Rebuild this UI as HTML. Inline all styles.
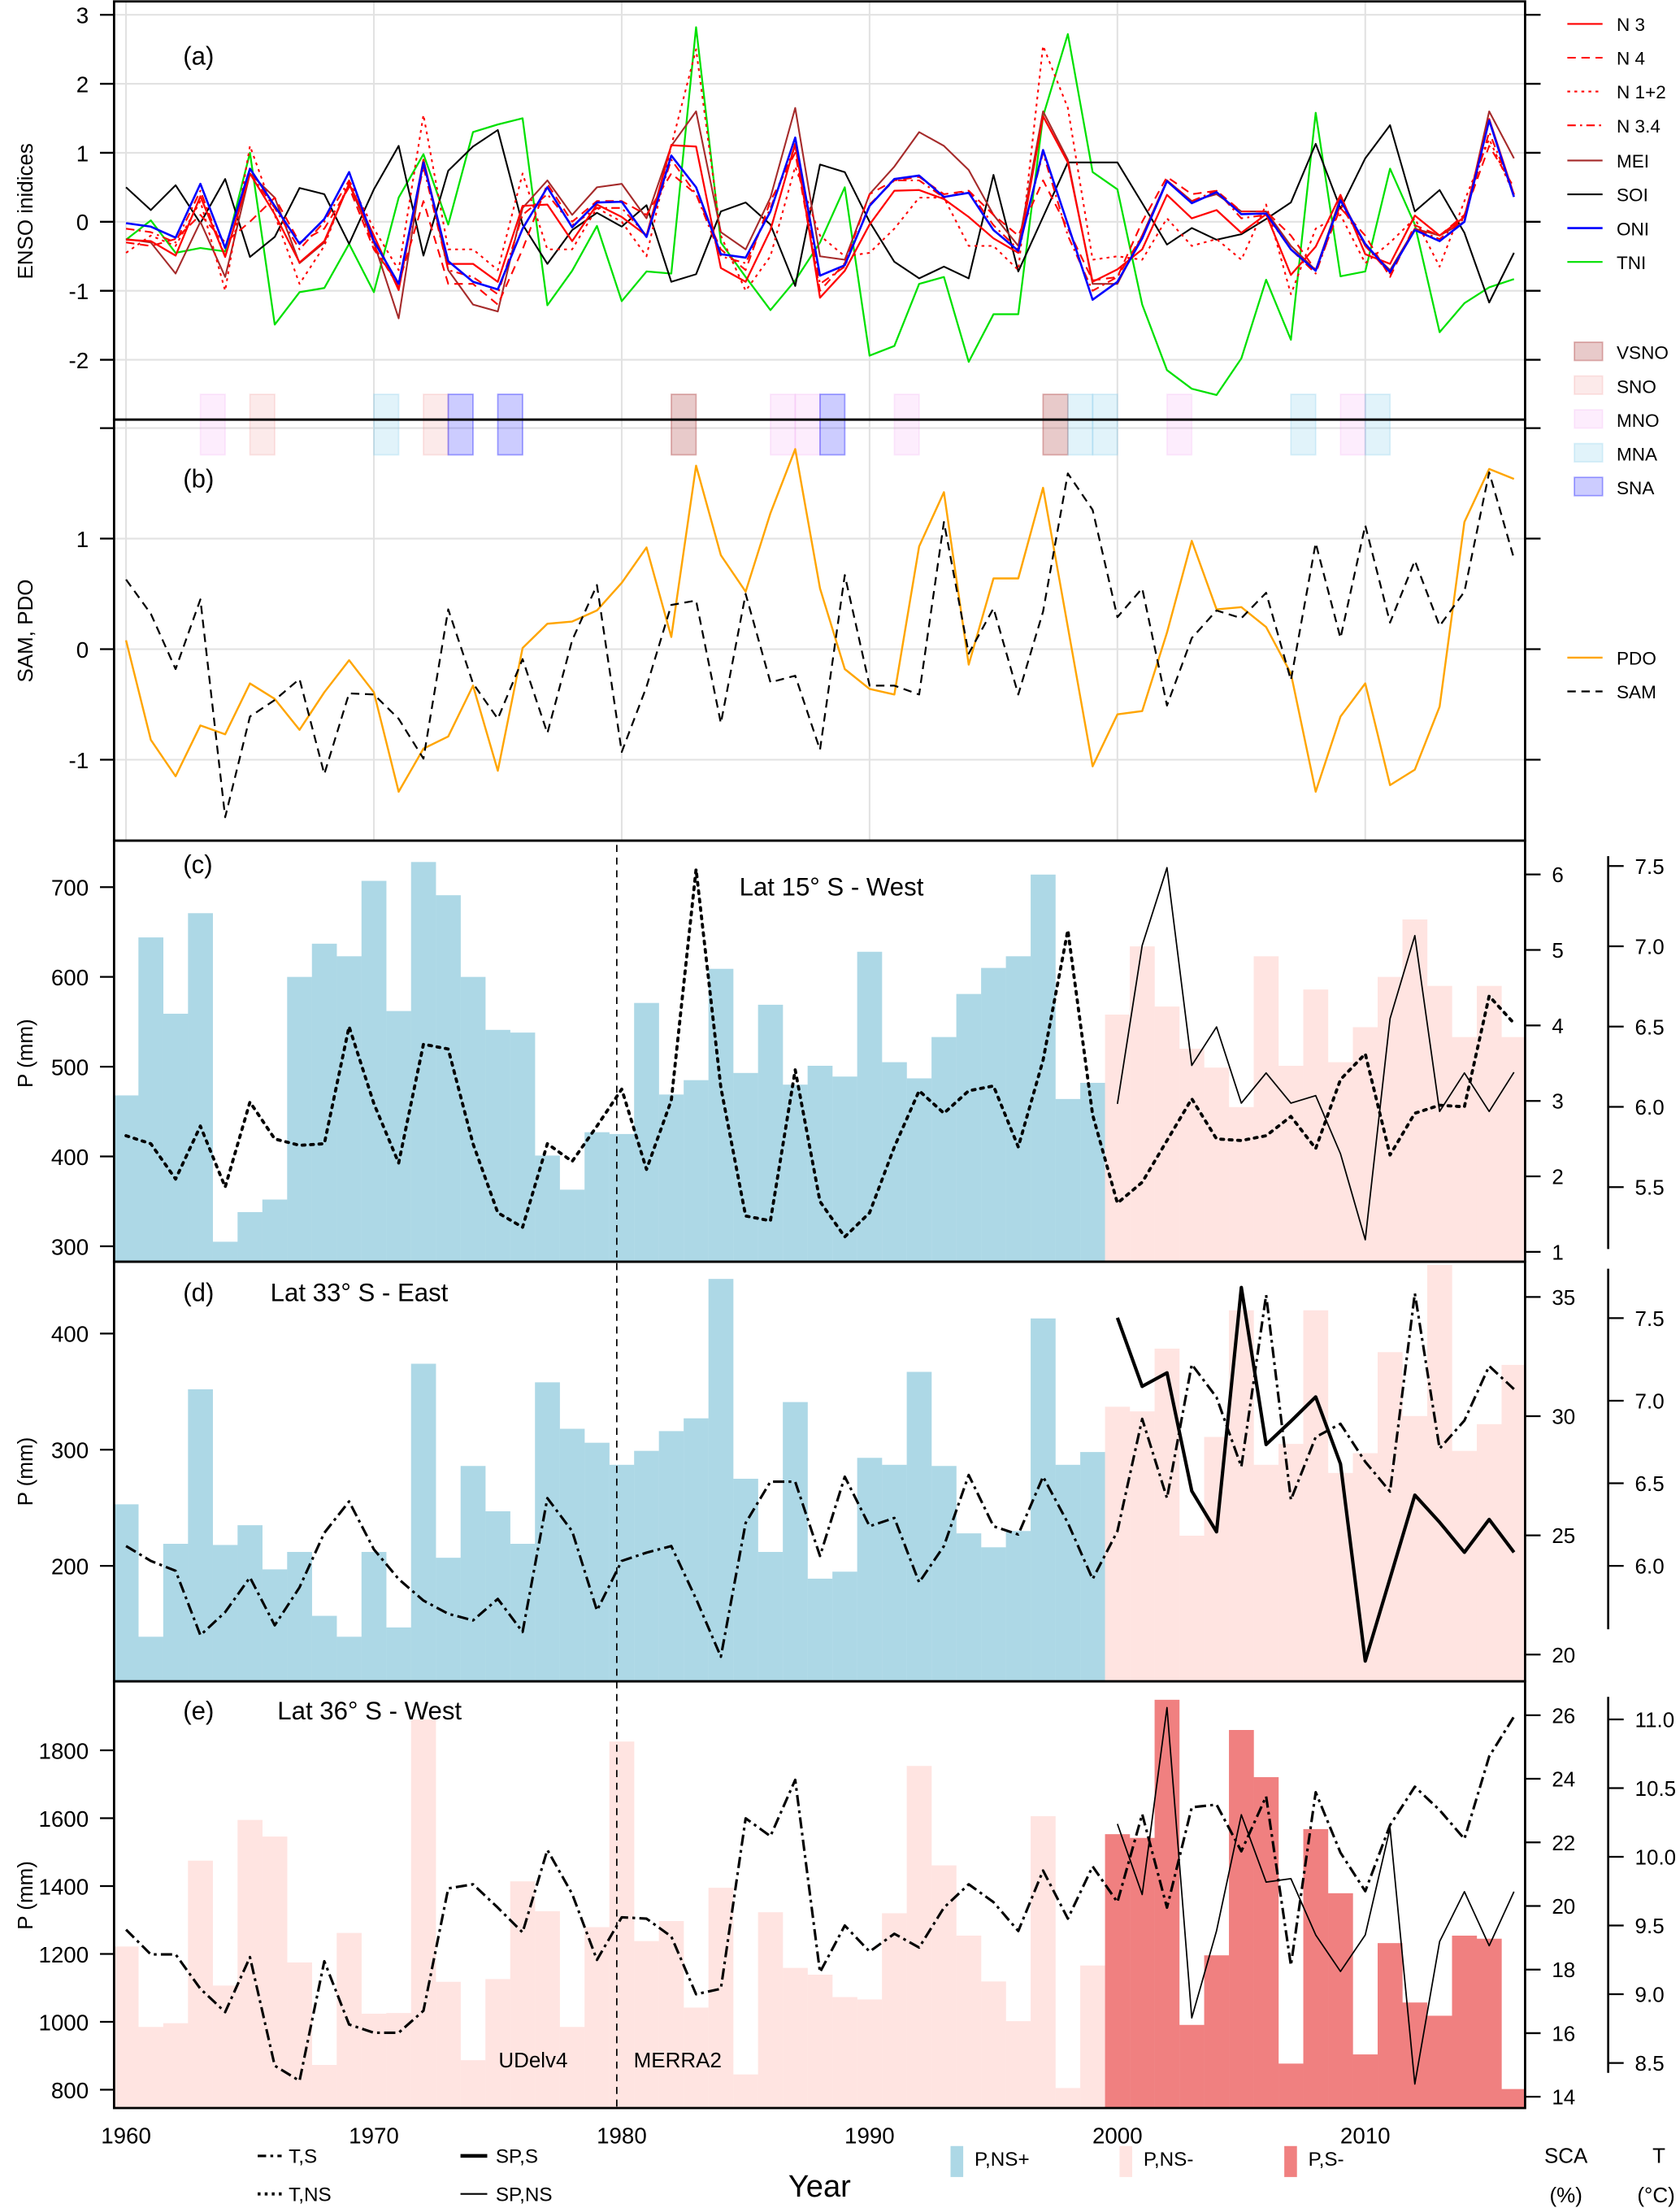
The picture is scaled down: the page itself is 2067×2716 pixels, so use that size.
<!DOCTYPE html>
<html><head><meta charset="utf-8">
<style>
html,body{margin:0;padding:0;background:#fff;}
svg{display:block;font-family:"Liberation Sans",Arial,sans-serif;}
</style></head>
<body>
<svg id="chart" xmlns="http://www.w3.org/2000/svg" width="2067" height="2716" viewBox="0 0 1193 1568" preserveAspectRatio="none">
<rect x="0" y="0" width="1193" height="1568" fill="#fff"/>
<g id="layer"></g>
</svg>
<script>
// ---------- data ----------
var years = [];
for (var yy = 1960; yy <= 2016; yy++) years.push(yy);

var n3 = [-0.26,-0.28,-0.49,0.37,-0.51,0.7,0.11,-0.59,-0.28,0.55,-0.2,-0.99,0.9,-0.61,-0.61,-0.87,0.23,0.25,-0.28,0.25,0.07,-0.2,1.11,1.09,-0.67,-0.87,-0.12,1.13,-1.1,-0.71,-0.04,0.45,0.46,0.33,0.07,-0.24,-0.45,1.53,0.86,-0.87,-0.69,-0.4,0.39,0.05,0.17,-0.16,0.11,-0.77,-0.36,0.39,-0.47,-0.61,0.09,-0.2,0.07,1.49,0.39];
var n4 = [-0.3,-0.35,-0.25,0.1,-0.3,0.0,0.35,-0.3,-0.1,0.5,-0.4,-0.9,0.3,-0.9,-0.9,-1.2,-0.4,0.55,0.0,0.3,0.3,0.1,0.7,0.4,-0.4,-0.7,0.3,1.0,-1.0,-0.6,0.4,0.6,0.65,0.4,0.45,0.1,-0.2,0.6,-0.1,-0.85,-0.8,0.0,0.65,0.4,0.45,0.15,0.15,-0.2,-0.7,0.2,-0.2,-0.8,-0.05,-0.2,0.1,1.1,0.5];
var n12 = [-0.45,-0.2,-0.35,0.3,-1.0,1.1,0.1,-0.9,-0.35,0.6,-0.1,-0.7,1.55,-0.4,-0.4,-0.7,0.7,-0.4,-0.4,0.2,0.0,-0.5,1.1,2.5,-0.2,-1.0,-0.5,0.8,-0.2,-0.5,-0.45,-0.1,0.35,0.35,-0.35,-0.35,-0.7,2.55,1.65,-0.55,-0.5,-0.55,0.05,-0.35,-0.25,-0.55,0.25,-1.05,-0.1,0.1,-0.6,-0.3,0.05,-0.65,0.3,1.2,0.4];
var n34 = [-0.1,-0.15,-0.3,0.45,-0.5,0.7,0.2,-0.4,0.0,0.6,-0.35,-0.95,0.8,-0.7,-0.8,-1.05,0.1,0.4,-0.05,0.2,0.2,-0.2,0.9,0.4,-0.5,-0.6,0.2,1.1,-0.9,-0.65,0.25,0.6,0.6,0.35,0.45,-0.05,-0.4,1.0,-0.2,-1.0,-0.8,-0.2,0.6,0.3,0.45,0.05,0.1,-0.4,-0.75,0.25,-0.35,-0.75,-0.1,-0.25,0.05,1.3,0.4];
var mei = [-0.25,-0.3,-0.75,0.0,-0.8,0.7,0.35,-0.6,-0.3,0.55,-0.3,-1.4,0.9,-0.7,-1.2,-1.3,0.2,0.6,0.1,0.5,0.55,0.05,1.1,1.6,-0.15,-0.4,0.35,1.65,-0.5,-0.55,0.4,0.8,1.3,1.1,0.75,0.1,-0.35,1.6,0.9,-0.9,-0.9,-0.2,0.6,0.3,0.4,0.15,0.15,-0.35,-0.7,0.35,-0.35,-0.7,-0.1,-0.2,0.0,1.6,0.92];
var soi = [0.5,0.17,0.53,-0.02,0.62,-0.51,-0.22,0.49,0.4,-0.32,0.47,1.1,-0.49,0.74,1.09,1.33,-0.04,-0.61,-0.12,0.13,-0.07,0.24,-0.87,-0.76,0.15,0.28,-0.04,-0.93,0.83,0.72,0.0,-0.58,-0.82,-0.65,-0.82,0.68,-0.72,0.07,0.86,0.86,0.86,0.27,-0.33,-0.09,-0.26,-0.18,0.04,0.28,1.13,0.19,0.92,1.4,0.15,0.46,-0.16,-1.17,-0.45];
var oni = [-0.02,-0.07,-0.23,0.55,-0.38,0.77,0.23,-0.32,0.04,0.72,-0.28,-0.9,0.86,-0.57,-0.87,-0.98,-0.1,0.5,-0.08,0.28,0.29,-0.22,0.96,0.5,-0.47,-0.52,0.15,1.22,-0.78,-0.63,0.23,0.62,0.67,0.36,0.42,-0.12,-0.42,1.04,-0.04,-1.13,-0.87,-0.24,0.59,0.27,0.43,0.11,0.12,-0.4,-0.71,0.31,-0.32,-0.73,-0.12,-0.28,0.0,1.47,0.36];
var tni = [-0.26,0.02,-0.45,-0.38,-0.43,1.0,-1.49,-1.02,-0.96,-0.32,-1.02,0.35,0.98,-0.04,1.3,1.41,1.5,-1.21,-0.71,-0.06,-1.15,-0.72,-0.75,2.82,-0.3,-0.8,-1.28,-0.85,-0.3,0.5,-1.94,-1.8,-0.9,-0.8,-2.03,-1.34,-1.34,1.53,2.72,0.72,0.47,-1.2,-2.15,-2.42,-2.51,-1.98,-0.84,-1.71,1.58,-0.79,-0.72,0.77,-0.04,-1.6,-1.18,-0.95,-0.83];

var eventYears = [1963,1965,1970,1972,1973,1975,1982,1986,1987,1988,1991,1997,1998,1999,2002,2007,2009,2010];
var eventTypes = ["MNO","SNO","MNA","SNO","SNA","SNA","VSNO","MNO","MNO","SNA","MNO","VSNO","MNA","MNA","MNO","MNA","MNO","MNA"];

var pdo = [0.08,-0.82,-1.15,-0.69,-0.77,-0.31,-0.45,-0.73,-0.39,-0.1,-0.39,-1.29,-0.9,-0.79,-0.33,-1.1,0.01,0.23,0.25,0.35,0.6,0.92,0.11,1.66,0.85,0.52,1.23,1.81,0.55,-0.18,-0.36,-0.41,0.93,1.42,-0.14,0.64,0.64,1.46,0.2,-1.06,-0.59,-0.56,0.15,0.98,0.36,0.38,0.2,-0.22,-1.29,-0.61,-0.31,-1.23,-1.09,-0.52,1.15,1.63,1.54];
var sam = [0.63,0.32,-0.18,0.45,-1.52,-0.61,-0.46,-0.27,-1.13,-0.4,-0.41,-0.63,-0.99,0.36,-0.31,-0.63,-0.09,-0.76,0.08,0.58,-0.93,-0.34,0.4,0.44,-0.67,0.5,-0.3,-0.24,-0.91,0.67,-0.33,-0.33,-0.41,1.15,-0.04,0.37,-0.41,0.34,1.59,1.26,0.29,0.55,-0.51,0.1,0.35,0.28,0.51,-0.28,0.96,0.1,1.12,0.24,0.8,0.21,0.52,1.6,0.82];

var pC = [468,644,559,671,305,338,352,600,637,623,707,562,728,691,600,541,538,401,363,427,425,571,469,485,609,493,569,480,501,489,628,505,487,533,581,610,623,714,464,482,558,634,567,520,499,455,623,501,586,505,544,600,664,590,533,590,533];
var tC = [5.82,5.77,5.55,5.88,5.5,6.03,5.8,5.76,5.77,6.5,6.02,5.65,6.39,6.36,5.77,5.34,5.25,5.77,5.66,5.88,6.11,5.61,6.04,7.48,6.12,5.32,5.29,6.23,5.41,5.19,5.34,5.75,6.1,5.96,6.1,6.13,5.75,6.29,7.1,5.95,5.4,5.53,5.79,6.05,5.8,5.79,5.82,5.94,5.74,6.17,6.33,5.7,5.96,6.01,6.0,6.69,6.52];
var scaYears = [2000,2001,2002,2003,2004,2005,2006,2007,2008,2009,2010,2011,2012,2013,2014,2015,2016];
var scaC = [2.96,5.06,6.09,3.47,3.98,2.97,3.37,2.97,3.07,2.3,1.16,4.09,5.19,2.86,3.37,2.86,3.38];

var pD = [253,139,219,352,218,235,197,212,157,139,212,147,374,207,286,247,219,358,318,306,287,299,316,327,447,275,212,341,189,195,293,287,367,286,228,216,230,413,287,298,337,333,387,226,311,420,287,305,420,280,297,384,329,459,299,322,373];
var tD = [6.12,6.03,5.97,5.58,5.72,5.93,5.64,5.87,6.2,6.39,6.1,5.92,5.79,5.71,5.67,5.8,5.6,6.41,6.21,5.73,6.03,6.08,6.12,5.8,5.45,6.26,6.51,6.51,6.06,6.54,6.24,6.29,5.9,6.12,6.55,6.24,6.19,6.54,6.26,5.92,6.21,6.89,6.41,7.22,7.02,6.6,7.64,6.4,6.78,6.86,6.63,6.45,7.65,6.71,6.88,7.21,7.07];
var scaD = [34.13,31.25,31.82,26.86,25.15,35.4,28.81,29.79,30.81,28.0,19.73,23.2,26.69,25.55,24.29,25.67,24.29];

var pE = [1222,985,996,1475,1107,1595,1546,1175,873,1262,1024,1026,1891,1118,887,1126,1414,1326,985,1279,1826,1238,1297,1042,1395,845,1323,1159,1139,1073,1066,1320,1754,1461,1254,1119,1002,1606,805,1166,1553,1542,1949,991,1196,1860,1721,877,1568,1379,904,1232,1057,1018,1254,1245,802];
var tE = [9.47,9.29,9.29,9.04,8.87,9.27,8.48,8.37,9.24,8.78,8.72,8.72,8.88,9.77,9.8,9.63,9.45,10.05,9.73,9.25,9.56,9.55,9.42,9.0,9.04,10.28,10.15,10.56,9.16,9.5,9.31,9.44,9.34,9.63,9.8,9.67,9.46,9.9,9.55,9.93,9.67,10.31,9.63,10.36,10.38,10.04,10.44,9.21,10.47,10.03,9.75,10.23,10.51,10.34,10.13,10.73,11.02];
var scaE = [22.58,20.36,26.24,16.48,19.22,22.87,20.75,20.86,19.09,17.94,19.09,22.45,14.4,18.88,20.45,18.75,20.45];

var ticksA = [3,2,1,0,-1,-2];
var ticksB = [1,0,-1];
var ticksPC = [300,400,500,600,700];
var ticksPD = [200,300,400];
var ticksPE = [800,1000,1200,1400,1600,1800];
var ticksSC = [1,2,3,4,5,6];
var ticksSD = [20,25,30,35];
var ticksSE = [14,16,18,20,22,24,26];
var ticksTC = [5.5,6.0,6.5,7.0,7.5];
var ticksTD = [6.0,6.5,7.0,7.5];
var ticksTE = [8.5,9.0,9.5,10.0,10.5,11.0];
var decades = [1960,1970,1980,1990,2000,2010];

// ---------- scales ----------
var L = 81, R = 1083;
function x(y){ return 89.5 + (y - 1960) * 17.6; }
function ya(v){ return 157.5 - v * 49; }
function yb(v){ return 461 - v * 78.5; }
function ycP(p){ return 885 - (p - 300) * 0.6375; }
function ycS(s){ return 889 - (s - 1) * 53.6; }
function ycT(t){ return 843 - (t - 5.5) * 114; }
function ydP(p){ return 1112 - (p - 200) * 0.825; }
function ydS(s){ return 1175 - (s - 20) * 16.93; }
function ydT(t){ return 1112 - (t - 6) * 117.3; }
function yeP(p){ return 1484 - (p - 800) * 0.241; }
function yeS(s){ return 1489 - (s - 14) * 22.58; }
function yeT(t){ return 1465 - (t - 8.5) * 97.6; }

var NS = "http://www.w3.org/2000/svg";
var layer = document.getElementById("layer");
function mk(tag, attrs, parent){
  var e = document.createElementNS(NS, tag);
  for (var k in attrs) e.setAttribute(k, attrs[k]);
  (parent || layer).appendChild(e);
  return e;
}
function txt(s, xx, yy, size, anchor, parent){
  var t = mk("text", {x: xx, y: yy, "font-size": size, "text-anchor": anchor || "start", fill: "#000"}, parent);
  t.textContent = s;
  return t;
}
function poly(xs, vals, yf, stroke, w, dash, parent){
  var pts = [];
  for (var i = 0; i < vals.length; i++) pts.push(x(xs[i]).toFixed(2) + "," + yf(vals[i]).toFixed(2));
  var a = {points: pts.join(" "), fill: "none", stroke: stroke, "stroke-width": w, "stroke-linejoin": "round"};
  if (dash) a["stroke-dasharray"] = dash;
  return mk("polyline", a, parent);
}

// clip paths
var defs = mk("defs", {});
var panels = {a:[1,298], b:[298,597], c:[597,896], d:[896,1194], e:[1194,1497]};
for (var p in panels){
  var cp = mk("clipPath", {id: "clip-" + p}, defs);
  mk("rect", {x: L, y: panels[p][0], width: R - L, height: panels[p][1] - panels[p][0]}, cp);
}

// ---------- panel a & b grids ----------
var gGrid = mk("g", {stroke: "#e2e2e2", "stroke-width": 1.2});


for (var i = 0; i < decades.length; i++){
  mk("line", {x1: x(decades[i]), x2: x(decades[i]), y1: 1, y2: 597}, gGrid);
}
for (var i = 0; i < ticksA.length; i++) mk("line", {x1: L, x2: R, y1: ya(ticksA[i]), y2: ya(ticksA[i])}, gGrid);
mk("line", {x1: L, x2: R, y1: 304, y2: 304}, gGrid);
for (var i = 0; i < ticksB.length; i++) mk("line", {x1: L, x2: R, y1: yb(ticksB[i]), y2: yb(ticksB[i])}, gGrid);

// event boxes
var evFill = {VSNO:"rgba(165,42,42,0.25)", SNO:"rgba(240,128,128,0.17)", MNO:"rgba(238,130,238,0.14)", MNA:"rgba(135,206,235,0.25)", SNA:"rgba(0,0,255,0.2)"};
var evStroke = {VSNO:"rgba(165,42,42,0.35)", SNO:"rgba(240,128,128,0.2)", MNO:"rgba(238,130,238,0.15)", MNA:"rgba(135,206,235,0.3)", SNA:"rgba(0,0,255,0.35)"};
var gEv = mk("g", {});


for (var i = 0; i < eventYears.length; i++){
  var r = mk("rect", {x: x(eventYears[i]), y: 280, width: x(eventYears[i] + 1) - x(eventYears[i]), height: 43, fill: evFill[eventTypes[i]], stroke: evStroke[eventTypes[i]], "stroke-width": 1}, gEv);
  
  
}

// panel a series
var gA = mk("g", {"clip-path": "url(#clip-a)"});


var sA = [
  ["tni", tni, "#00e000", 1.3, null],
  ["soi", soi, "#000", 1.2, null],
  ["mei", mei, "#a52a2a", 1.2, null],
  ["n12", n12, "#ff0000", 1.2, "2,3"],
  ["n34", n34, "#ff0000", 1.2, "6,3,1.5,3"],
  ["n4", n4, "#ff0000", 1.2, "6,4"],
  ["n3", n3, "#ff0000", 1.3, null],
  ["oni", oni, "#0000ff", 1.5, null]
];
for (var i = 0; i < sA.length; i++){
  var pl = poly(years, sA[i][1], ya, sA[i][2], sA[i][3], sA[i][4], gA);
  
  
}

// panel b series
var gB = mk("g", {"clip-path": "url(#clip-b)"});


var lp = poly(years, pdo, yb, "#ffa500", 1.4, null, gB);


var ls = poly(years, sam, yb, "#000", 1.3, "6,4", gB);



// bars
function bars(vals, yf, base, colBefore, colAfter, clip, name){
  var g = mk("g", {"clip-path": "url(#clip-" + clip + ")"});
  
  
  for (var i = 0; i < vals.length; i++){
    var top = yf(vals[i]);
    var b = mk("rect", {x: x(years[i] - 0.5), y: top, width: 17.7, height: Math.max(0, base - top), fill: years[i] < 2000 ? colBefore : colAfter}, g);
    
    
  }
}
bars(pC, ycP, 896, "#add8e6", "#ffe4e1", "c", "precip-bars-c");
bars(pD, ydP, 1194, "#add8e6", "#ffe4e1", "d", "precip-bars-d");
bars(pE, yeP, 1497, "#ffe4e1", "#f08080", "e", "precip-bars-e");

// lines c
var gC = mk("g", {"clip-path": "url(#clip-c)"});


var l1 = poly(years, tC, ycT, "#000", 2.2, "2,4", gC);


l1.setAttribute('stroke-linecap', 'round');
var l2 = poly(scaYears, scaC, ycS, "#000", 1, null, gC);


// lines d
var gD = mk("g", {"clip-path": "url(#clip-d)"});


var l3 = poly(years, tD, ydT, "#000", 1.8, "8,3,2,3", gD);


var l4 = poly(scaYears, scaD, ydS, "#000", 2.4, null, gD);


// lines e
var gE = mk("g", {"clip-path": "url(#clip-e)"});


var l5 = poly(years, tE, yeT, "#000", 1.8, "8,3,2,3", gE);


var l6 = poly(scaYears, scaE, yeS, "#000", 1, null, gE);



// dataset divider
var dv = mk("line", {x1: x(1979.8), x2: x(1979.8), y1: 600, y2: 1497, stroke: "#000", "stroke-width": 1, "stroke-dasharray": "5,4"});



// frames
var gF = mk("g", {fill: "none", stroke: "#000", "stroke-width": 1.6});


for (var p in panels) mk("rect", {x: L, y: panels[p][0], width: R - L, height: panels[p][1] - panels[p][0]}, gF);

// axes ticks
function leftTicks(ticks, yf, name, fmt){
  var g = mk("g", {});
  
  
  for (var i = 0; i < ticks.length; i++){
    var yy = yf(ticks[i]);
    mk("line", {x1: 71, x2: L, y1: yy, y2: yy, stroke: "#000", "stroke-width": 1.3}, g);
    txt(fmt ? fmt(ticks[i]) : String(ticks[i]), 63, yy + 6, 16, "end", g);
  }
  return g;
}
function rightTicks(ticks, yf, xa, name, fmt, label){
  var g = mk("g", {});
  
  
  for (var i = 0; i < ticks.length; i++){
    var yy = yf(ticks[i]);
    mk("line", {x1: xa, x2: xa + 11, y1: yy, y2: yy, stroke: "#000", "stroke-width": 1.3}, g);
    if (label) txt(fmt ? fmt(ticks[i]) : String(ticks[i]), xa + 19, yy + 5.5, 15, "start", g);
  }
  return g;
}
var ga = leftTicks(ticksA, ya, "y-axis-a");
mk("line", {x1: 71, x2: L, y1: 304, y2: 304, stroke: "#000", "stroke-width": 1.3}, ga);
leftTicks(ticksB, yb, "y-axis-b");
leftTicks(ticksPC, ycP, "y-axis-c");
leftTicks(ticksPD, ydP, "y-axis-d");
leftTicks(ticksPE, yeP, "y-axis-e");
var gra = rightTicks(ticksA, ya, R, "right-axis-a", null, false);
mk("line", {x1: R, x2: R + 11, y1: 304, y2: 304, stroke: "#000", "stroke-width": 1.3}, gra);
rightTicks(ticksB, yb, R, "right-axis-b", null, false);
rightTicks(ticksSC, ycS, R, "sca-axis-c", null, true);
rightTicks(ticksSD, ydS, R, "sca-axis-d", null, true);
rightTicks(ticksSE, yeS, R, "sca-axis-e", null, true);
function f1(v){ return v.toFixed(1); }
var TA = 1142;
var gtc = rightTicks(ticksTC, ycT, TA, "t-axis-c", f1, true);
mk("line", {x1: TA, x2: TA, y1: 608, y2: 887, stroke: "#000", "stroke-width": 1.5}, gtc);
var gtd = rightTicks(ticksTD, ydT, TA, "t-axis-d", f1, true);
mk("line", {x1: TA, x2: TA, y1: 901, y2: 1157, stroke: "#000", "stroke-width": 1.5}, gtd);
var gte = rightTicks(ticksTE, yeT, TA, "t-axis-e", f1, true);
mk("line", {x1: TA, x2: TA, y1: 1205, y2: 1472, stroke: "#000", "stroke-width": 1.5}, gte);

// x labels
var gx = mk("g", {});


for (var i = 0; i < decades.length; i++) txt(String(decades[i]), x(decades[i]), 1522, 16, "middle", gx);

// axis titles
function vt(s, cx, cy, name){
  var t = mk("text", {x: 0, y: 0, "font-size": 15, "text-anchor": "middle", transform: "translate(" + cx + "," + cy + ") rotate(-90)"});
  t.textContent = s;
  
  
}
vt("ENSO inidices", 23, 150, "y-title-a");
vt("SAM, PDO", 23, 448, "y-title-b");
vt("P (mm)", 23, 748, "y-title-c");
vt("P (mm)", 23, 1045, "y-title-d");
vt("P (mm)", 23, 1346, "y-title-e");

// panel labels
var labs = [["(a)",130,46,"label-a"],["(b)",130,346,"label-b"],["(c)",130,620,"label-c"],["(d)",130,924,"label-d"],["(e)",130,1221,"label-e"],
  ["Lat 15°  S - West",525,636,"region-c"],["Lat 33°  S - East",192,924,"region-d"],["Lat 36°  S - West",197,1221,"region-e"],
  ["UDelv4",354,1468,"source-udel"],["MERRA2",450,1468,"source-merra"]];
for (var i = 0; i < labs.length; i++){
  var t = txt(labs[i][0], labs[i][1], labs[i][2], i >= 8 ? 15 : 18, "start");
  
  
}

// right legend
var gL = mk("g", {});


var legNames = ["N 3","N 4","N 1+2","N 3.4","MEI","SOI","ONI","TNI"];
var legCols = ["#ff0000","#ff0000","#ff0000","#ff0000","#a52a2a","#000","#0000ff","#00e000"];
var legDash = [null,"6,4","2,3","6,3,1.5,3",null,null,null,null];
var legY = [17,41,65,89,114,138,162,186];
for (var i = 0; i < legNames.length; i++){
  var a = {x1: 1113, x2: 1138, y1: legY[i], y2: legY[i], stroke: legCols[i], "stroke-width": i == 6 ? 1.5 : 1.2};
  if (legDash[i]) a["stroke-dasharray"] = legDash[i];
  mk("line", a, gL);
  txt(legNames[i], 1148, legY[i] + 5, 13, "start", gL);
}
var evNames = ["VSNO","SNO","MNO","MNA","SNA"];
var evY = [250,274,298,322,346];
for (var i = 0; i < evNames.length; i++){
  mk("rect", {x: 1118, y: evY[i] - 7, width: 20, height: 13, fill: evFill[evNames[i]], stroke: evStroke[evNames[i]]}, gL);
  txt(evNames[i], 1148, evY[i] + 5, 13, "start", gL);
}
mk("line", {x1: 1113, x2: 1138, y1: 467, y2: 467, stroke: "#ffa500", "stroke-width": 1.4}, gL);
txt("PDO", 1148, 472, 13, "start", gL);
mk("line", {x1: 1113, x2: 1138, y1: 491, y2: 491, stroke: "#000", "stroke-width": 1.3, "stroke-dasharray": "6,4"}, gL);
txt("SAM", 1148, 496, 13, "start", gL);

// bottom legend
var gB2 = mk("g", {});


mk("line", {x1: 183, x2: 200, y1: 1531, y2: 1531, stroke: "#000", "stroke-width": 1.8, "stroke-dasharray": "6,3,2,3"}, gB2);
txt("T,S", 205, 1536, 14, "start", gB2);
mk("line", {x1: 183, x2: 200, y1: 1558, y2: 1558, stroke: "#000", "stroke-width": 2.2, "stroke-dasharray": "2,3"}, gB2);
txt("T,NS", 205, 1563, 14, "start", gB2);
mk("line", {x1: 327, x2: 346, y1: 1531, y2: 1531, stroke: "#000", "stroke-width": 2.6}, gB2);
txt("SP,S", 352, 1536, 14, "start", gB2);
mk("line", {x1: 327, x2: 346, y1: 1558, y2: 1558, stroke: "#000", "stroke-width": 1.2}, gB2);
txt("SP,NS", 352, 1563, 14, "start", gB2);
mk("rect", {x: 675, y: 1524, width: 9, height: 22, fill: "#add8e6"}, gB2);
txt("P,NS+", 692, 1538, 14, "start", gB2);
mk("rect", {x: 795, y: 1524, width: 9, height: 22, fill: "#ffe4e1"}, gB2);
txt("P,NS-", 812, 1538, 14, "start", gB2);
mk("rect", {x: 912, y: 1524, width: 9, height: 22, fill: "#f08080"}, gB2);
txt("P,S-", 929, 1538, 14, "start", gB2);
var yt = txt("Year", 582, 1560, 22, "middle");


var s1 = txt("SCA", 1112, 1536, 15, "middle");


var s2 = txt("(%)", 1112, 1564, 15, "middle");


var s3 = txt("T", 1178, 1536, 15, "middle");


var s4 = txt("(°C)", 1176, 1564, 15, "middle");


</script>
</body></html>
